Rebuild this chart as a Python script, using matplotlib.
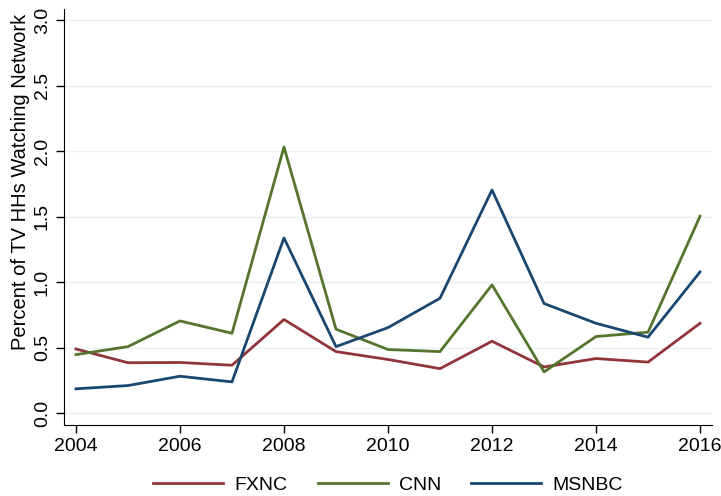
import matplotlib
matplotlib.use("Agg")
import matplotlib.pyplot as plt

# Share of TV households watching each network, by year
years = [2004, 2005, 2006, 2007, 2008, 2009, 2010, 2011, 2012, 2013, 2014, 2015, 2016]
fxnc = [0.49, 0.385, 0.387, 0.366, 0.715, 0.47, 0.41, 0.34, 0.549, 0.353, 0.417, 0.39, 0.686]
cnn = [0.447, 0.508, 0.704, 0.61, 2.031, 0.641, 0.486, 0.47, 0.979, 0.315, 0.585, 0.618, 1.503]
msnbc = [0.186, 0.211, 0.282, 0.239, 1.337, 0.508, 0.653, 0.877, 1.703, 0.837, 0.686, 0.58, 1.078]

plt.rcParams['font.family'] = ['Liberation Sans', 'DejaVu Sans']

fig = plt.figure(figsize=(7.21, 4.96), dpi=100)
# axes box in pixels: left 64, right 712, top 9, bottom 425
ax = fig.add_axes([64 / 721, 1 - 425 / 496, (712 - 64) / 721, (425 - 9) / 496])

ax.plot(years, fxnc, color='#90353b', lw=2, label='FXNC')
ax.plot(years, cnn, color='#55752f', lw=2, label='CNN')
ax.plot(years, msnbc, color='#1a476f', lw=2, label='MSNBC')

ax.set_xlim(2003.77, 2016.23)
ax.set_ylim(-0.09, 3.084)
ax.set_xticks(range(2004, 2017, 2))
ax.set_yticks([0, 0.5, 1.0, 1.5, 2.0, 2.5, 3.0])
ax.set_yticklabels(['0.0', '0.5', '1.0', '1.5', '2.0', '2.5', '3.0'], rotation=90, va='center')
ax.tick_params(labelsize=14, length=6, width=1, direction='out')
ax.grid(axis='y', color='#eaf2f3', lw=1)
ax.set_axisbelow(True)
for s in ['top', 'right']:
    ax.spines[s].set_visible(False)
ax.set_ylabel('Percent of TV HHs Watching Network', fontsize=14.5)
ax.yaxis.set_label_coords(-0.052, 0.585)

ax.legend(loc='center', bbox_to_anchor=(0.5, -0.145), ncol=3, frameon=False,
          fontsize=14, handlelength=3.6, handletextpad=0.57, columnspacing=1.55)

fig.savefig('out.png', dpi=100)
